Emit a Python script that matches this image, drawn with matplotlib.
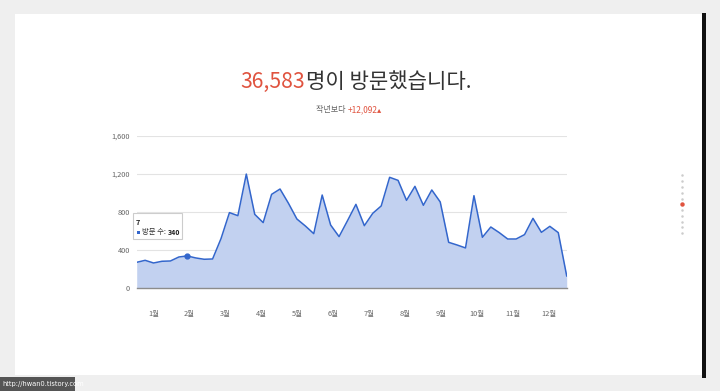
import matplotlib
matplotlib.use('Agg')
import matplotlib.pyplot as plt
import numpy as np

plt.rcParams['font.family'] = ['Noto Sans CJK KR', 'DejaVu Sans']

# 주간 방문 수
weekly_visits = [273, 294, 266, 284, 287, 329, 340, 319, 305, 308,
                 522, 795, 763, 1200, 777, 690, 987, 1043, 893, 728,
                 655, 574, 980, 665, 543, 710, 882, 658, 788, 865,
                 1166, 1134, 924, 1071, 872, 1033, 907, 483, 455, 424,
                 973, 536, 644, 585, 518, 518, 564, 735, 588, 651,
                 585, 130]
month_labels = ['1월', '2월', '3월', '4월', '5월', '6월',
                '7월', '8월', '9월', '10월', '11월', '12월']
y_ticks = [0, 400, 800, 1200, 1600]
total_text = '36,583'
diff_text = '+12,092▴'
hover_week = 7

RED = '#e0533f'
BLUE = '#3366cc'
FILL = '#c2d1f0'

W, H = 720, 391
fig = plt.figure(figsize=(W / 100, H / 100), dpi=100, facecolor='#efefef')
renderer = fig.canvas.get_renderer()

# 배경 (픽셀 좌표)
bg = fig.add_axes([0, 0, 1, 1])
bg.set_xlim(0, W)
bg.set_ylim(H, 0)
bg.axis('off')
bg.add_patch(plt.Rectangle((15, 14), 687, 361, color='white', lw=0))
bg.add_patch(plt.Rectangle((702, 13), 4, 365, color='#111111', lw=0))
bg.add_patch(plt.Rectangle((0, 377), 75, 14, color='#555555', lw=0))
bg.text(2, 384, 'http://hwan0.tistory.com', color='white', fontsize=4.8,
        va='center', ha='left', family='DejaVu Sans')

# 오른쪽 페이지 점
dot_y = [175, 181, 187, 192.5, 198.5, 204.3, 210, 216, 221.7, 227.3, 233.3]
for k, yy in enumerate(dot_y):
    if k == 5:
        bg.plot(682.3, yy, 'o', ms=3.2, color=RED, mec='none')
    else:
        bg.plot(682.3, yy, 'o', ms=1.8, color='#cccccc', mec='none')

# 제목
bg.text(305, 88, total_text, color=RED, fontsize=15.2, ha='right',
        va='baseline', fontweight='light')
bg.text(306, 88, '명이 방문했습니다.', color='#333333', fontsize=15.2,
        ha='left', va='baseline', fontweight='light')
bg.text(347, 112, '작년보다 ', color='#666666', fontsize=5.8, ha='right', va='baseline')
bg.text(348, 112, diff_text, color=RED, fontsize=6.0, ha='left', va='baseline')

# 차트
ax = fig.add_axes([136.7 / W, 1 - 288.3 / H, 430 / W, 152.3 / H])
ax.patch.set_alpha(0)
x = np.arange(len(weekly_visits))
ax.fill_between(x, weekly_visits, 0, color=FILL, lw=0, zorder=2)
ax.plot(x, weekly_visits, color=BLUE, lw=1.1, zorder=3)
ax.axhline(0, color='#8c8c8c', lw=1.0, zorder=4, clip_on=False)

ax.set_xlim(0, len(weekly_visits) - 1)
ax.set_ylim(0, 1600)
ax.set_yticks(y_ticks)
ax.set_yticklabels([f'{v:,}' for v in y_ticks])
ax.grid(axis='y', color='#e3e3e3', lw=0.8, zorder=1)
ax.set_xticks(np.linspace(2, 48.9, len(month_labels)))
ax.set_xticklabels(month_labels)
ax.tick_params(axis='y', length=0, pad=4.8, labelsize=5.3, labelcolor='#666666')
ax.tick_params(axis='x', length=0, pad=15.5, labelsize=5.3, labelcolor='#666666')
for s in ax.spines.values():
    s.set_visible(False)

# 툴팁
i = hover_week - 1
ax.plot(x[i], weekly_visits[i], 'o', ms=3.5, color=BLUE, zorder=5)
bg.add_patch(plt.Rectangle((133, 213), 49, 26, facecolor='white',
                           edgecolor='#cccccc', lw=0.8, zorder=10))
bg.text(136, 222.5, str(hover_week), fontsize=5.3, fontweight='bold',
        color='#222222', va='center', zorder=11)
bg.add_patch(plt.Rectangle((136.5, 230.5), 3, 3, color=BLUE, lw=0, zorder=11))
lab = bg.text(141.5, 232.3, '방문 수:', fontsize=5.3, color='#333333',
              va='center', zorder=11)
x_end = lab.get_window_extent(renderer).x1  # dpi 100 -> 픽셀 = 좌표
bg.text(x_end + 2, 232.3, str(weekly_visits[i]), fontsize=5.1, fontweight='bold',
        color='#222222', va='center', zorder=11)

fig.savefig('out.png', dpi=100, facecolor=fig.get_facecolor())
